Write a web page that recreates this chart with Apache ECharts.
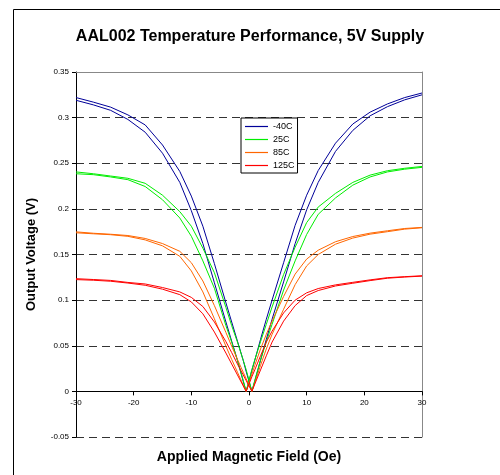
<!DOCTYPE html>
<html>
<head>
<meta charset="utf-8">
<script src="https://cdn.jsdelivr.net/npm/echarts@6/dist/echarts.min.js"></script>
<style>html,body{margin:0;padding:0;background:#fff;}#c{width:500px;height:475px;}</style>
</head>
<body>
<div id="c"></div>
<script>
const fieldOe = [-30,-27,-24,-21,-18,-15,-12,-10,-8,-6,-4,-3,-2,-1,-0.5,0,0.5,1,2,3,4,6,8,10,12,15,18,21,24,27,30];
const tempNames = ['-40C','25C','85C','125C'];
const tempColors = ['#000099','#00ee00','#ff6600','#ff0000'];
// two sweeps (hysteresis) per temperature
const m40Up   = [.322,.317,.3115,.303,.292,.270,.241,.214,.181,.140,.097,.076,.055,.034,.022,.011,0,.011,.034,.057,.079,.120,.162,.199,.229,.263,.286,.302,.312,.3195,.325];
const m40Down = [.319,.314,.308,.298,.284,.261,.229,.198,.162,.119,.076,.055,.034,.011,0,.011,.023,.034,.057,.079,.100,.141,.182,.215,.242,.272,.293,.306,.315,.322,.327];
const t25Up   = [.2405,.2385,.236,.2335,.228,.215,.197,.181,.157,.130,.092,.072,.054,.034,.024,.012,0,.012,.0345,.0545,.0735,.111,.143,.172,.194,.212,.226,.235,.2405,.2435,.2455];
const t25Down = [.2385,.2375,.235,.232,.2245,.210,.190,.170,.143,.113,.072,.054,.034,.012,0,.012,.024,.0345,.0545,.0735,.0925,.128,.158,.185,.202,.217,.229,.237,.2418,.2445,.2465];
const t85Up   = [.1748,.1733,.1722,.1708,.1676,.162,.1535,.141,.121,.094,.0645,.0495,.035,.021,.014,.007,0,.009,.0285,.0465,.0625,.090,.117,.1375,.150,.1613,.168,.1723,.175,.1778,.1793];
const t85Down = [.1738,.1727,.1717,.1699,.166,.1595,.148,.132,.109,.0795,.0495,.035,.021,.007,0,.009,.019,.0285,.0465,.0625,.077,.104,.1285,.145,.1547,.164,.1697,.1734,.176,.1785,.1797];
const t125Up  = [.1235,.1226,.1216,.1194,.1177,.1138,.109,.103,.093,.076,.0545,.0425,.030,.018,.012,.006,0,.008,.0235,.039,.054,.077,.094,.105,.1105,.1155,.1185,.1214,.124,.1253,.1263];
const t125Down= [.1225,.1218,.1207,.1187,.1163,.112,.106,.098,.085,.065,.042,.030,.018,.006,0,.008,.016,.0235,.039,.054,.066,.086,.100,.108,.1127,.1167,.1195,.1222,.1246,.1257,.1267];

const curves = [
  [0, m40Up],[0, m40Down],
  [1, t25Up],[1, t25Down],
  [2, t85Up],[2, t85Down],
  [3, t125Up],[3, t125Down]
];
const FONT = '"Liberation Sans", Arial, sans-serif';
const series = curves.map(([ti, arr]) => ({
  type: 'line',
  name: tempNames[ti],
  data: fieldOe.map((x, i) => [x, arr[i]]),
  symbol: 'none',
  lineStyle: { color: tempColors[ti], width: 1 },
  itemStyle: { color: tempColors[ti] },
  animation: false
}));

const GRID = { left: 76, right: 78, top: 72, bottom: 38 };
const Y_MIN = -0.05, Y_MAX = 0.35;
const plotH = 475 - GRID.top - GRID.bottom;
// x axis sits on the zero line (distance from the bottom edge of the plot)
const zeroOffset = plotH * (0 - Y_MIN) / (Y_MAX - Y_MIN);

const chart = echarts.init(document.getElementById('c'));
chart.setOption({
  backgroundColor: '#fff',
  animation: false,
  graphic: [{
    type: 'rect', left: 11, top: 7, shape: { width: 520, height: 520 },
    style: { fill: 'none', stroke: '#000', lineWidth: 1 }, silent: true, z: -1
  }],
  title: {
    text: 'AAL002 Temperature Performance, 5V Supply',
    left: 'center', top: 24,
    textStyle: { fontFamily: FONT, fontSize: 16, fontWeight: 'bold', color: '#000' }
  },
  legend: {
    data: tempNames,
    orient: 'vertical',
    left: 241, top: 118,
    backgroundColor: '#fff',
    borderColor: '#000', borderWidth: 1, borderRadius: 0,
    padding: [3, 3, 2, 4],
    icon: 'rect',
    itemWidth: 23, itemHeight: 1.2, itemGap: 2,
    textStyle: { fontFamily: FONT, fontSize: 9, color: '#000', lineHeight: 11 }
  },
  grid: Object.assign({ outerBoundsMode: 'none', containLabel: false }, GRID),
  xAxis: [{
    type: 'value', min: -30, max: 30, interval: 10,
    offset: -zeroOffset,
    name: 'Applied Magnetic Field (Oe)', nameLocation: 'middle', nameGap: 59,
    nameTextStyle: { fontFamily: FONT, fontSize: 14, fontWeight: 'bold', color: '#000' },
    axisLine: { onZero: false, lineStyle: { color: '#000', width: 1 } },
    axisTick: { show: true, length: 4, lineStyle: { color: '#000' } },
    axisLabel: { fontFamily: FONT, fontSize: 8, color: '#000', margin: 7 },
    splitLine: { show: false }
  }, {
    type: 'value', min: -30, max: 30, position: 'top',
    axisLine: { onZero: false, show: true, lineStyle: { color: '#888', width: 1 } },
    axisTick: { show: false }, axisLabel: { show: false }, splitLine: { show: false }
  }],
  yAxis: [{
    type: 'value', min: Y_MIN, max: Y_MAX, interval: 0.05,
    name: 'Output Voltage (V)', nameLocation: 'middle', nameGap: 38,
    nameTextStyle: { fontFamily: FONT, fontSize: 13, fontWeight: 'bold', color: '#000' },
    axisLine: { show: true, onZero: false, lineStyle: { color: '#000', width: 1 } },
    axisTick: { show: true, length: 4, lineStyle: { color: '#000' } },
    axisLabel: { fontFamily: FONT, fontSize: 8, color: '#000', margin: 7,
      formatter: v => String(parseFloat(v.toFixed(2))) },
    splitLine: { show: true, lineStyle: { color: '#333', width: 1, type: [8, 5] } }
  }, {
    type: 'value', min: Y_MIN, max: Y_MAX, position: 'right',
    axisLine: { show: true, onZero: false, lineStyle: { color: '#888', width: 1 } },
    axisTick: { show: false }, axisLabel: { show: false }, splitLine: { show: false }
  }],
  series: series
});
</script>
</body>
</html>
